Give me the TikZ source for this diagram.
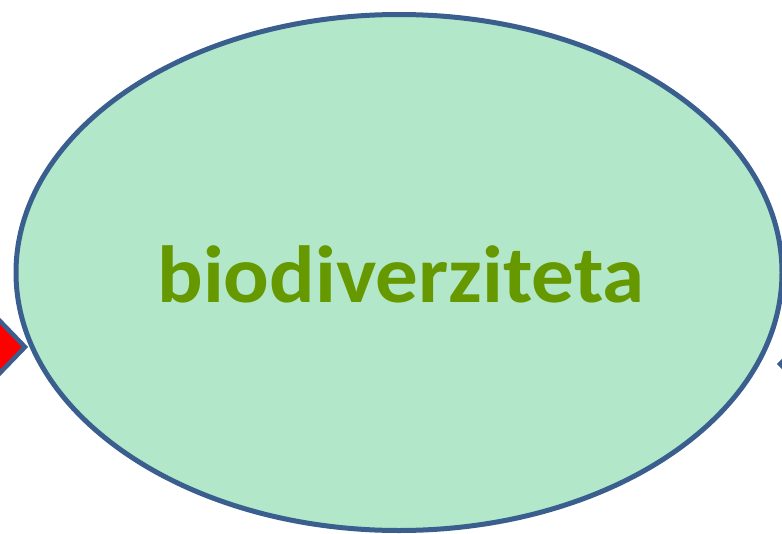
\documentclass[tikz,border=0pt]{standalone}
\usepackage{fontspec}
\setmainfont{Carlito}
\definecolor{ellfill}{HTML}{B2E7CA}
\definecolor{ellline}{HTML}{3A5F8E}
\definecolor{txtgreen}{HTML}{669900}
\definecolor{arrred}{HTML}{FF0000}
\tikzset{
  bubble/.style={ellipse, draw=ellline, fill=ellfill, line width=5pt, inner sep=0pt},
  tipshape/.style={draw=ellline, fill=arrred, line width=4.5pt, line join=miter},
  label/.style={font=\bfseries\fontsize{81}{96}\selectfont, text=txtgreen}
}
\usetikzlibrary{shapes.geometric}
\begin{document}
\begin{tikzpicture}[x=1pt,y=-1pt]
\useasboundingbox (0,0) rectangle (782,533);
\clip (0,0) rectangle (782,533);
\node[bubble, minimum width=766pt, minimum height=516pt] (ell) at (399,272.5) {};
\coordinate (lt) at (25,347);
\draw[tipshape] (-30,290) -- (lt) -- (-30,404) -- cycle;
\coordinate (rt) at (780,364);
\draw[tipshape, fill=ellline] (rt) -- (820,324) -- (820,404) -- cycle;
\node[label, anchor=base, xscale=1.05, transform shape] (txt) at (401,302) {biodiverziteta};
\end{tikzpicture}
\end{document}
